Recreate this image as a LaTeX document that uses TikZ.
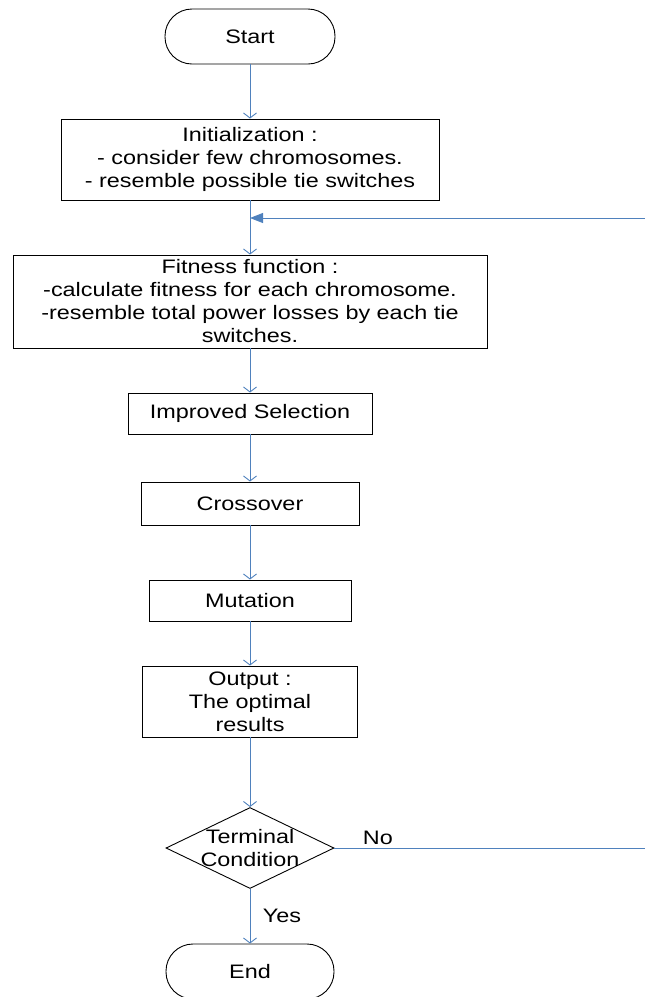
\documentclass[tikz,border=0pt]{standalone}
\usepackage{fontspec}
\setmainfont[FakeStretch=1.2]{Liberation Sans}
\usetikzlibrary{shapes.geometric,arrows.meta}
\definecolor{linkblue}{RGB}{79,129,189}

\begin{document}
\begin{tikzpicture}[x=1pt, y=-1pt, font=\fontsize{19.5}{23}\selectfont,
        main/.style = {draw, rectangle, line width=0.9pt, inner sep=0pt, align=center},
        term/.style = {main, minimum width=170pt, minimum height=55pt, rounded corners=27pt},
        test/.style = {draw, diamond, line width=0.9pt, inner sep=0pt, minimum width=168pt, minimum height=81pt},
        link/.style = {draw=linkblue, line width=0.9pt, -{Straight Barb[length=5pt,width=13pt]}}]
        \useasboundingbox (0,0) rectangle (645,997);

        \node[term] (1) at (250,36.5) {Start};
        \node[main, minimum width=378pt, minimum height=81pt] (2) at (250,159.5) {Initialization :\\- consider few chromosomes.\\- resemble possible tie switches};
        \node[main, minimum width=474pt, minimum height=93pt] (3) at (250,301.5) {Fitness function :\\-calculate fitness for each chromosome.\\-resemble total power losses by each tie\\switches.};
        \node[main, minimum width=244pt, minimum height=41pt] (4) at (250,413.5) {Improved Selection};
        \node[main, minimum width=218pt, minimum height=43pt] (5) at (250,503.5) {Crossover};
        \node[main, minimum width=202pt, minimum height=41pt] (6) at (250,600.5) {Mutation};
        \node[main, minimum width=215pt, minimum height=71pt] (7) at (250,701.5) {Output :\\The optimal\\results};
        \node[test, label={[align=center]center:Terminal\\Condition}] (8) at (250,848) {};
        \node[term, minimum width=168pt] (9) at (250,971.5) {End};

        % loop back from the test
        \coordinate (fb) at (645,218);
        \coordinate (no) at (645,848);

        \draw[link] (1) -- (2);
        \draw[link] (2) -- (3);
        \draw[link, -{Triangle[length=13pt,width=10pt]}] (fb) -- (fb -| 2.south);
        \draw[link] (3) -- (4);
        \draw[link] (4) -- (5);
        \draw[link] (5) -- (6);
        \draw[link] (6) -- (7);
        \draw[link] (7) -- (8);
        \draw[link] (8) -- node[right=9pt] {Yes} (9);
        \draw[link, -] (8.east) -- node[pos=0.14, above] {No} (no);

    \end{tikzpicture}
\end{document}
